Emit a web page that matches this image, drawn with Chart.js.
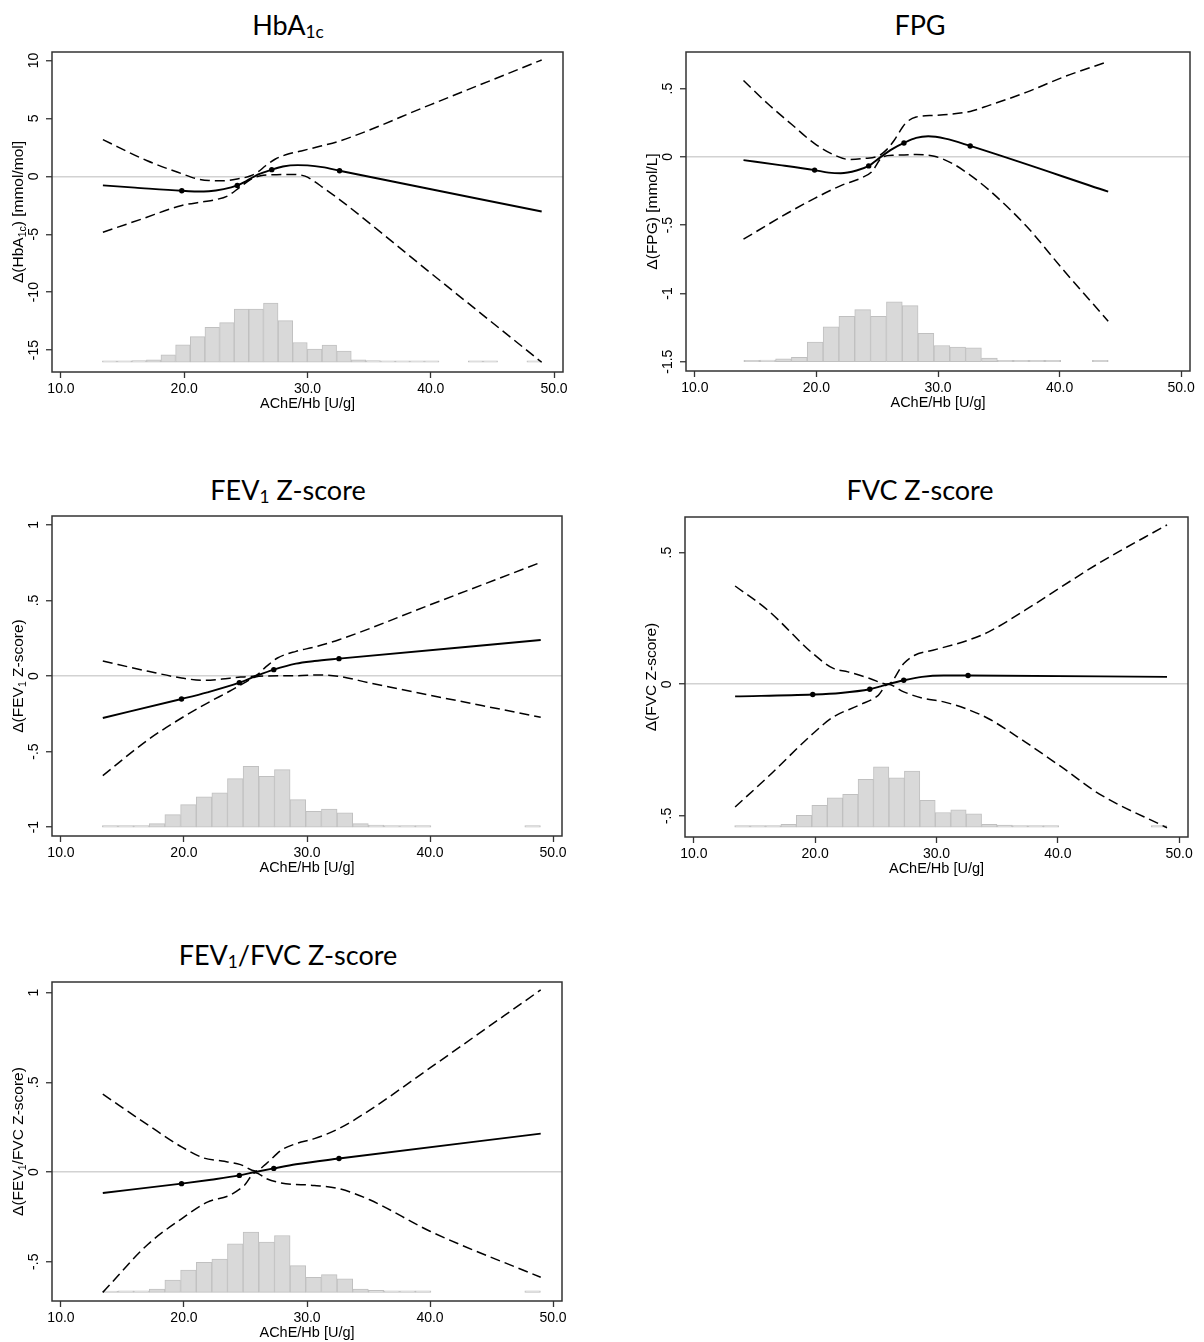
<!DOCTYPE html>
<html>
<head>
<meta charset="utf-8">
<script src="https://cdn.jsdelivr.net/npm/chart.js@4.4.1/dist/chart.umd.min.js"></script>
<style>
html,body{margin:0;padding:0;background:#fff;}
#page{position:relative;width:1204px;height:1342px;overflow:hidden;background:#fff;}
#page canvas{position:absolute;}
.ttl{position:absolute;width:500px;text-align:center;font-family:Lato,"Open Sans",sans-serif;font-size:27px;line-height:27px;color:#000;white-space:nowrap;}
.ttl sub{font-size:0.64em;vertical-align:-0.2em;line-height:0;}
</style>
</head>
<body>
<div id="page"></div>
<script>
// ---------- shared axis data ----------
const xTickValues = [10, 20, 30, 40, 50];
const xTickLabels = ['10.0', '20.0', '30.0', '40.0', '50.0'];
const xAxisTitle = 'AChE/Hb [U/g]';

// ---------- HbA1c ----------
const hba1cYTicks = [10, 5, 0, -5, -10, -15];
const hba1cYTickLabels = ['10', '5', '0', '-5', '-10', '-15'];
const hba1cEstX = [13.4, 16.0, 19.8, 21.0, 22.0, 23.2, 24.3, 25.0, 25.5, 26.0, 27.1, 28.0, 29.2, 30.0, 31.2, 32.6, 49.0];
const hba1cEstY = [-0.78, -0.97, -1.24, -1.30, -1.28, -1.10, -0.78, -0.42, -0.12, 0.17, 0.58, 0.85, 0.97, 0.95, 0.80, 0.49, -3.03];
const hba1cHiX = [13.4, 17.0, 19.8, 21.0, 22.0, 23.0, 24.3, 25.4, 26.0, 26.6, 27.4, 28.5, 29.5, 31.0, 32.6, 40.0, 49.0];
const hba1cHiY = [3.17, 1.35, 0.23, -0.20, -0.36, -0.38, -0.22, 0.05, 0.40, 0.92, 1.50, 1.95, 2.20, 2.60, 3.05, 6.20, 10.05];
const hba1cLoX = [13.4, 16.5, 19.8, 21.5, 22.5, 23.5, 24.5, 25.4, 26.2, 27.5, 28.8, 29.8, 30.5, 31.2, 32.6, 40.0, 49.0];
const hba1cLoY = [-4.82, -3.70, -2.51, -2.20, -2.02, -1.70, -0.95, -0.25, 0.05, 0.15, 0.17, 0.02, -0.40, -0.92, -2.00, -8.35, -16.05];
const hba1cKnotX = [19.8, 24.3, 27.1, 32.6];
const hba1cKnotY = [-1.24, -0.78, 0.58, 0.49];
const hba1cBinMid = [13.95, 15.14, 16.33, 17.52, 18.70, 19.89, 21.08, 22.27, 23.46, 24.64, 25.83, 27.02, 28.21, 29.39, 30.58,
                     31.77, 32.96, 34.14, 35.33, 36.52, 37.71, 38.89, 40.08, 41.27, 42.46, 43.64, 44.83, 46.02, 47.21, 48.39];
const hba1cBinTop = [-15.93, -15.93, -15.90, -15.84, -15.40, -14.54, -13.84, -13.04, -12.63, -11.45, -11.45, -10.93, -12.46, -14.34, -14.91,
                     -14.57, -15.09, -15.84, -15.90, -15.93, -15.93, -15.93, -15.93, null, null, -15.93, -15.93, null, null, -15.93];
const hba1cBinBase = -16.05;
const hba1cYTitle = [['\u0394(HbA', 0], ['1c', 1], [') [mmol/mol]', 0]];

// ---------- FPG ----------
const fpgYTicks = [0.5, 0, -0.5, -1, -1.5];
const fpgYTickLabels = ['.5', '0', '-.5', '-1', '-1.5'];
const fpgEstX = [14.0, 17.0, 19.85, 21.0, 22.0, 23.3, 24.3, 25.3, 26.3, 27.2, 28.2, 29.2, 30.6, 32.65, 44.0];
const fpgEstY = [-0.024, -0.06, -0.097, -0.115, -0.12, -0.10, -0.066, 0.0, 0.060, 0.102, 0.139, 0.151, 0.134, 0.080, -0.255];
const fpgHiX = [14.0, 16.0, 18.0, 19.85, 21.5, 22.7, 23.9, 25.1, 25.8, 26.4, 27.3, 28.2, 29.7, 31.0, 32.65, 34.2, 37.3, 40.3, 44.0];
const fpgHiY = [0.559, 0.389, 0.235, 0.097, 0.012, -0.019, -0.012, 0.007, 0.055, 0.122, 0.243, 0.292, 0.304, 0.312, 0.333, 0.377, 0.474, 0.584, 0.698];
const fpgLoX = [14.0, 17.6, 19.85, 22.1, 23.6, 24.55, 25.45, 26.4, 28.2, 29.7, 31.2, 32.65, 34.2, 37.3, 40.3, 44.0];
const fpgLoY = [-0.603, -0.413, -0.304, -0.207, -0.158, -0.109, 0.0, 0.012, 0.017, 0.005, -0.049, -0.134, -0.243, -0.51, -0.827, -1.203];
const fpgKnotX = [19.85, 24.3, 27.2, 32.65];
const fpgKnotY = [-0.097, -0.066, 0.102, 0.080];
const fpgBinMid = [14.68, 15.99, 17.29, 18.59, 19.89, 21.20, 22.50, 23.80, 25.10, 26.41, 27.71, 29.01, 30.32, 31.62, 32.92,
                   34.23, 35.53, 36.83, 38.13, 39.44, 40.74, 42.04, 43.35];
const fpgBinTop = [-1.490, -1.488, -1.478, -1.468, -1.357, -1.245, -1.167, -1.118, -1.167, -1.062, -1.089, -1.293, -1.381, -1.393, -1.398,
                   -1.473, -1.490, -1.490, -1.490, -1.490, null, null, -1.490];
const fpgBinBase = -1.50;
const fpgYTitle = [['\u0394(FPG) [mmol/L]', 0]];

// ---------- spirometry histogram bins (same sample) ----------
const spiroBinMid = [14.00, 15.27, 16.54, 17.81, 19.08, 20.36, 21.63, 22.90, 24.17, 25.44, 26.72, 27.99, 29.26, 30.53,
                     31.81, 33.08, 34.35, 35.62, 36.89, 38.17, 39.44, 40.71, 41.98, 43.25, 44.53, 45.80, 47.07, 48.34];

// ---------- FEV1 Z-score ----------
const fev1YTicks = [1, 0.5, 0, -0.5, -1];
const fev1YTickLabels = ['1', '.5', '0', '-.5', '-1'];
const fev1EstX = [13.4, 19.8, 21.9, 24.5, 25.8, 27.3, 29.1, 30.6, 32.6, 49.0];
const fev1EstY = [-0.278, -0.152, -0.108, -0.044, -0.002, 0.042, 0.082, 0.099, 0.115, 0.238];
const fev1HiX = [13.4, 17.1, 19.8, 21.6, 23.1, 24.6, 25.8, 26.7, 27.6, 29.1, 30.6, 32.6, 40.0, 49.0];
const fev1HiY = [0.099, 0.031, -0.013, -0.029, -0.020, -0.007, 0.002, 0.064, 0.119, 0.163, 0.192, 0.240, 0.471, 0.752];
const fev1LoX = [13.4, 17.1, 19.8, 21.9, 23.7, 24.9, 25.8, 26.7, 29.1, 31.2, 32.6, 35.1, 49.0];
const fev1LoY = [-0.659, -0.421, -0.278, -0.179, -0.101, -0.046, -0.007, 0.0, 0.002, 0.007, -0.002, -0.046, -0.273];
const fev1KnotX = [19.8, 24.5, 27.3, 32.6];
const fev1KnotY = [-0.152, -0.044, 0.042, 0.115];
const fev1BinTop = [-0.990, -0.990, -0.990, -0.977, -0.917, -0.851, -0.800, -0.774, -0.679, -0.598, -0.664, -0.620, -0.818, -0.895,
                    -0.880, -0.906, -0.977, -0.987, -0.990, -0.990, -0.990, null, null, null, null, null, null, -0.990];
const fev1BinBase = -1.0;
const fev1YTitle = [['\u0394(FEV', 0], ['1', 1], [' Z-score)', 0]];

// ---------- FVC Z-score ----------
const fvcYTicks = [0.5, 0, -0.5];
const fvcYTickLabels = ['.5', '0', '-.5'];
const fvcEstX = [13.4, 19.8, 22.1, 24.5, 25.4, 26.0, 27.3, 28.8, 30.6, 32.6, 49.0];
const fvcEstY = [-0.046, -0.039, -0.033, -0.019, -0.008, 0.0, 0.015, 0.028, 0.033, 0.033, 0.028];
const fvcHiX = [13.4, 16.1, 19.8, 21.5, 22.7, 24.5, 26.0, 27.3, 28.2, 29.7, 32.6, 34.3, 37.3, 40.3, 43.4, 49.0];
const fvcHiY = [0.373, 0.281, 0.117, 0.060, 0.047, 0.022, 0.0, 0.079, 0.110, 0.129, 0.167, 0.199, 0.281, 0.370, 0.460, 0.605];
const fvcLoX = [13.4, 16.1, 19.8, 21.5, 23.6, 25.2, 26.0, 27.3, 28.8, 30.6, 32.6, 34.3, 37.3, 40.3, 43.4, 49.0];
const fvcLoY = [-0.466, -0.352, -0.188, -0.124, -0.080, -0.042, 0.0, -0.029, -0.052, -0.067, -0.096, -0.131, -0.219, -0.314, -0.416, -0.545];
const fvcKnotX = [19.8, 24.5, 27.3, 32.6];
const fvcKnotY = [-0.039, -0.019, 0.015, 0.033];
const fvcBinTop = [-0.537, -0.537, -0.537, -0.532, -0.498, -0.460, -0.431, -0.418, -0.361, -0.314, -0.355, -0.330, -0.441, -0.487,
                   -0.477, -0.492, -0.532, -0.535, -0.537, -0.537, -0.537, null, null, null, null, null, null, -0.537];
const fvcBinBase = -0.543;
const fvcYTitle = [['\u0394(FVC Z-score)', 0]];

// ---------- FEV1/FVC Z-score ----------
const ratioYTicks = [1, 0.5, 0, -0.5];
const ratioYTickLabels = ['1', '.5', '0', '-.5'];
const ratioEstX = [13.4, 19.8, 22.2, 24.5, 25.8, 27.3, 29.1, 32.6, 49.0];
const ratioEstY = [-0.117, -0.065, -0.043, -0.019, 0.0, 0.020, 0.043, 0.075, 0.214];
const ratioHiX = [13.4, 17.1, 19.8, 21.6, 23.1, 24.6, 25.8, 26.7, 27.9, 29.1, 30.6, 32.6, 35.1, 40.0, 49.0];
const ratioHiY = [0.434, 0.261, 0.140, 0.078, 0.061, 0.041, 0.006, 0.047, 0.121, 0.158, 0.186, 0.242, 0.345, 0.580, 1.015];
const ratioLoX = [13.4, 17.1, 19.8, 21.9, 23.7, 24.9, 25.8, 26.7, 27.9, 30.6, 32.6, 35.1, 40.0, 49.0];
const ratioLoY = [-0.671, -0.401, -0.261, -0.168, -0.130, -0.075, -0.004, -0.037, -0.061, -0.075, -0.093, -0.155, -0.330, -0.587];
const ratioKnotX = [19.8, 24.5, 27.3, 32.6];
const ratioKnotY = [-0.065, -0.019, 0.020, 0.075];
const ratioBinTop = [-0.664, -0.663, -0.663, -0.652, -0.602, -0.546, -0.503, -0.486, -0.401, -0.335, -0.391, -0.354, -0.522, -0.587,
                     -0.572, -0.596, -0.652, -0.660, -0.663, -0.663, -0.663, null, null, null, null, null, null, -0.663];
const ratioBinBase = -0.671;
const ratioYTitle = [['\u0394(FEV', 0], ['1', 1], ['/FVC Z-score)', 0]];

// ---------- rendering ----------
const FONT = '"Liberation Sans", Arial, Helvetica, sans-serif';
const TXT = '#000';
const page = document.getElementById('page');

function xy(xs, ys) { return xs.map((x, i) => ({ x: x, y: ys[i] })); }
function bars(mids, tops, base) {
  const out = [];
  mids.forEach((x, i) => { if (tops[i] != null) out.push({ x: x, y: [base, tops[i]] }); });
  return out;
}

function axisPlugin(o) {
  return {
    id: 'frameAndYAxis',
    afterDraw(chart) {
      const ctx = chart.ctx, a = chart.chartArea, ys = chart.scales.y;
      ctx.save();
      ctx.fillStyle = TXT;
      ctx.font = '14px ' + FONT;
      ctx.textAlign = 'center';
      ctx.textBaseline = 'middle';
      ys.ticks.forEach((t, i) => {
        const py = ys.getPixelForValue(t.value);
        ctx.save();
        ctx.translate(a.left - 18, py);
        ctx.rotate(-Math.PI / 2);
        ctx.fillText(t.label != null ? t.label : o.yTickLabels[i], 0, 0);
        ctx.restore();
      });
      // y axis title with subscripts
      const big = 15.5, small = 10.5;
      let total = 0;
      o.yTitle.forEach(s => { ctx.font = (s[1] ? small : big) + 'px ' + FONT; total += ctx.measureText(s[0]).width; });
      ctx.save();
      ctx.translate(a.left - 34, (a.top + a.bottom) / 2);
      ctx.rotate(-Math.PI / 2);
      ctx.textAlign = 'left';
      ctx.textBaseline = 'alphabetic';
      let px = -total / 2;
      o.yTitle.forEach(s => {
        ctx.font = (s[1] ? small : big) + 'px ' + FONT;
        ctx.fillText(s[0], px, s[1] ? 8 : 5);
        px += ctx.measureText(s[0]).width;
      });
      ctx.restore();
      // frame
      ctx.strokeStyle = '#333';
      ctx.lineWidth = 1.5;
      ctx.strokeRect(a.left, a.top, a.right - a.left, a.bottom - a.top);
      ctx.restore();
    }
  };
}

function addTitle(html, cx, top) {
  const d = document.createElement('div');
  d.className = 'ttl';
  d.innerHTML = html;
  d.style.left = (cx - 250) + 'px';
  d.style.top = top + 'px';
  page.appendChild(d);
}

function panel(o) {
  const L = o.frame[0], T = o.frame[1], R = o.frame[2], B = o.frame[3];
  const padL = 52, padT = 8, padR = 12, axH = 45, padB = 2;
  const w = R - L + padL + padR, h = B - T + padT + axH + padB;
  const cv = document.createElement('canvas');
  cv.width = w; cv.height = h;
  cv.style.width = w + 'px'; cv.style.height = h + 'px';
  cv.style.left = (L - padL) + 'px'; cv.style.top = (T - padT) + 'px';
  page.appendChild(cv);
  addTitle(o.title, o.titleX, o.titleTop);

  new Chart(cv.getContext('2d'), {
    type: 'line',
    data: {
      datasets: [
        { type: 'line', data: xy(o.estX, o.estY), borderColor: '#000', borderWidth: 1.9, pointRadius: 0,
          cubicInterpolationMode: 'monotone', fill: false, order: 1 },
        { type: 'line', data: xy(o.hiX, o.hiY), borderColor: '#000', borderWidth: 1.5, borderDash: [10, 5], pointRadius: 0,
          cubicInterpolationMode: 'monotone', fill: false, order: 2 },
        { type: 'line', data: xy(o.loX, o.loY), borderColor: '#000', borderWidth: 1.5, borderDash: [10, 5], pointRadius: 0,
          cubicInterpolationMode: 'monotone', fill: false, order: 2 },
        { type: 'line', data: xy(o.knotX, o.knotY), showLine: false, pointRadius: 2.7, pointBorderWidth: 0,
          pointBackgroundColor: '#000', order: 0 },
        { type: 'bar', data: bars(o.binMid, o.binTop, o.binBase), backgroundColor: '#d9d9d9', borderColor: '#c0c0c0',
          borderWidth: 1, borderSkipped: false, barPercentage: 1, categoryPercentage: 1, order: 5 }
      ]
    },
    options: {
      responsive: false, animation: false, devicePixelRatio: 1,
      layout: { padding: { left: 0, top: padT, right: padR, bottom: padB } },
      plugins: { legend: { display: false }, tooltip: { enabled: false } },
      scales: {
        x: {
          type: 'linear', min: 9.27, max: 50.73, offset: false, bounds: 'data',
          afterBuildTicks: s => { s.ticks = xTickValues.map(v => ({ value: v })); },
          afterFit: s => { s.height = axH; s.paddingLeft = 0; s.paddingRight = 0; },
          ticks: { callback: (v, i) => xTickLabels[i], font: { family: FONT, size: 14 }, color: TXT, padding: 3,
                   maxRotation: 0, minRotation: 0, autoSkip: false },
          grid: { display: true, drawOnChartArea: false, drawTicks: true, tickLength: 6, tickColor: '#333', tickWidth: 1.3, offset: false },
          border: { display: false },
          title: { display: true, text: xAxisTitle, font: { family: FONT, size: 14.5 }, color: TXT, padding: { top: 0, bottom: 4 } }
        },
        y: {
          type: 'linear', min: o.yMin, max: o.yMax, bounds: 'data', beginAtZero: false,
          afterBuildTicks: s => { s.ticks = o.yTicks.map(v => ({ value: v })); },
          afterFit: s => { s.width = padL; s.paddingTop = 0; s.paddingBottom = 0; },
          ticks: { display: false, callback: (v, i) => o.yTickLabels[i] },
          grid: { drawOnChartArea: true, color: c => (c.tick && c.tick.value === 0) ? '#d2d2d2' : 'rgba(0,0,0,0)',
                  lineWidth: 1.5, drawTicks: true, tickLength: 6, tickColor: '#333', tickWidth: 1.3 },
          border: { display: false }
        }
      }
    },
    plugins: [axisPlugin(o)]
  });
}

panel({ frame: [52, 52, 563, 372], yMin: -16.89, yMax: 10.74, yTicks: hba1cYTicks, yTickLabels: hba1cYTickLabels,
  estX: hba1cEstX, estY: hba1cEstY, hiX: hba1cHiX, hiY: hba1cHiY, loX: hba1cLoX, loY: hba1cLoY,
  knotX: hba1cKnotX, knotY: hba1cKnotY, binMid: hba1cBinMid, binTop: hba1cBinTop, binBase: hba1cBinBase,
  yTitle: hba1cYTitle, title: 'HbA<sub>1c</sub>', titleX: 288, titleTop: 11 });

panel({ frame: [686, 52, 1190, 371], yMin: -1.568, yMax: 0.768, yTicks: fpgYTicks, yTickLabels: fpgYTickLabels,
  estX: fpgEstX, estY: fpgEstY, hiX: fpgHiX, hiY: fpgHiY, loX: fpgLoX, loY: fpgLoY,
  knotX: fpgKnotX, knotY: fpgKnotY, binMid: fpgBinMid, binTop: fpgBinTop, binBase: fpgBinBase,
  yTitle: fpgYTitle, title: 'FPG', titleX: 920, titleTop: 11 });

panel({ frame: [52, 516, 562, 836], yMin: -1.059, yMax: 1.059, yTicks: fev1YTicks, yTickLabels: fev1YTickLabels,
  estX: fev1EstX, estY: fev1EstY, hiX: fev1HiX, hiY: fev1HiY, loX: fev1LoX, loY: fev1LoY,
  knotX: fev1KnotX, knotY: fev1KnotY, binMid: spiroBinMid, binTop: fev1BinTop, binBase: fev1BinBase,
  yTitle: fev1YTitle, title: 'FEV<sub>1</sub> Z-score', titleX: 288, titleTop: 476 });

panel({ frame: [685, 517, 1188, 837], yMin: -0.580, yMax: 0.635, yTicks: fvcYTicks, yTickLabels: fvcYTickLabels,
  estX: fvcEstX, estY: fvcEstY, hiX: fvcHiX, hiY: fvcHiY, loX: fvcLoX, loY: fvcLoY,
  knotX: fvcKnotX, knotY: fvcKnotY, binMid: spiroBinMid, binTop: fvcBinTop, binBase: fvcBinBase,
  yTitle: fvcYTitle, title: 'FVC Z-score', titleX: 920, titleTop: 476 });

panel({ frame: [52, 982, 562, 1301], yMin: -0.719, yMax: 1.059, yTicks: ratioYTicks, yTickLabels: ratioYTickLabels,
  estX: ratioEstX, estY: ratioEstY, hiX: ratioHiX, hiY: ratioHiY, loX: ratioLoX, loY: ratioLoY,
  knotX: ratioKnotX, knotY: ratioKnotY, binMid: spiroBinMid, binTop: ratioBinTop, binBase: ratioBinBase,
  yTitle: ratioYTitle, title: 'FEV<sub>1</sub>/FVC Z-score', titleX: 288, titleTop: 941 });
</script>
</body>
</html>
